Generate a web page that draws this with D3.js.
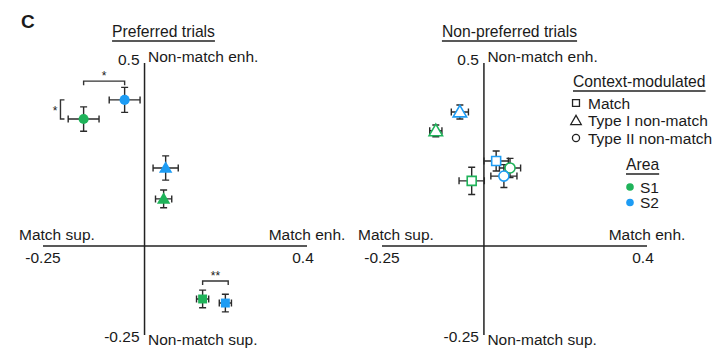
<!DOCTYPE html>
<html><head><meta charset="utf-8">
<script src="https://cdn.jsdelivr.net/npm/d3@7"></script>
<style>body{margin:0;background:#fff}text{font-family:"Liberation Sans",Arial,sans-serif;fill:#1a1a1a}</style>
</head><body>
<svg id="c" width="722" height="363"></svg>
<script>
// ---- data ----
const panels = ["Preferred trials", "Non-preferred trials"];
const areas = ["S1", "S2"];
const areaColors = ["#1fb35a", "#1d9cf4"];
const types = ["Match", "Type I non-match", "Type II non-match"];
// Preferred trials: [type, area, x, y, xerr, yerr]
const preferred = [
  ["Type II non-match", "S2", -0.049, 0.397, 0.038, 0.034],
  ["Type II non-match", "S1", -0.150, 0.345, 0.038, 0.033],
  ["Type I non-match", "S2", 0.052, 0.212, 0.031, 0.033],
  ["Type I non-match", "S1", 0.047, 0.128, 0.020, 0.024],
  ["Match", "S1", 0.143, -0.144, 0.015, 0.024],
  ["Match", "S2", 0.199, -0.155, 0.015, 0.024]
];
const nonPreferred = [
  ["Type I non-match", "S2", -0.059, 0.364, 0.021, 0.019],
  ["Type I non-match", "S1", -0.118, 0.313, 0.015, 0.016],
  ["Match", "S2", 0.030, 0.231, 0.030, 0.027],
  ["Type II non-match", "S1", 0.064, 0.212, 0.026, 0.026],
  ["Type II non-match", "S2", 0.049, 0.190, 0.032, 0.031],
  ["Match", "S1", -0.030, 0.177, 0.031, 0.037]
];
// significance brackets (preferred panel)
const sigH = [ {x1: -0.150, x2: -0.049, y: 0.448, label: "*"}, {x1: 0.143, x2: 0.206, y: -0.095, label: "**"} ];
const sigV = [ {y1: 0.397, y2: 0.345, x: -0.207, label: "*"} ];
const xDomain = [-0.25, 0.4];
const yDomain = [-0.25, 0.5];
const xTickLabels = ["-0.25", "0.4"];
const yTickLabels = ["-0.25", "0.5"];
const axisLabels = {xNeg: "Match sup.", xPos: "Match enh.", yPos: "Non-match enh.", yNeg: "Non-match sup."};

// ---- drawing ----
const svg = d3.select("#c");
const color = d3.scaleOrdinal(areas, areaColors);
const shape = d3.scaleOrdinal(types, [d3.symbolSquare, d3.symbolTriangle, d3.symbolCircle]);
const size = d3.scaleOrdinal(types, [80, 78, 80]);
const ink = "#222";
const FS = 15.5, HFS = 15.7;

svg.append("text").attr("x", 21).attr("y", 28).attr("font-size", 19).attr("font-weight", "bold").text("C");

const layouts = [
  {x0: 43, x1: 307, data: preferred, filled: true},
  {x0: 382, x1: 647, data: nonPreferred, filled: false}
];

function underlined(g, x, y, txt, fs, anchor) {
  const t = g.append("text").attr("x", x).attr("y", y).attr("font-size", fs).attr("text-anchor", anchor).text(txt);
  const w = t.node().getComputedTextLength();
  const sx = anchor === "middle" ? x - w / 2 : x;
  g.append("line").attr("x1", sx).attr("x2", sx + w).attr("y1", y + 4).attr("y2", y + 4).attr("stroke", ink).attr("stroke-width", 1.3);
}

layouts.forEach((L, i) => {
  const x = d3.scaleLinear().domain(xDomain).range([L.x0, L.x1]);
  const y = d3.scaleLinear().domain(yDomain).range([338, 62]);
  const g = svg.append("g");
  // title
  underlined(g, (x(xDomain[0]) + x(xDomain[1])) / 2 + (i === 0 ? -11.5 : -5), 37, panels[i], HFS, "middle");
  // axes
  g.append("line").attr("x1", x(xDomain[0])).attr("x2", x(xDomain[1])).attr("y1", y(0)).attr("y2", y(0)).attr("stroke", ink).attr("stroke-width", 1.5);
  g.append("line").attr("x1", x(0)).attr("x2", x(0)).attr("y1", y(yDomain[1]) + 1).attr("y2", y(yDomain[0]) - 3).attr("stroke", ink).attr("stroke-width", 1.5);
  const fs = FS;
  g.append("text").attr("x", x(xDomain[0]) - 24).attr("y", y(0) - 6).attr("font-size", fs).text(axisLabels.xNeg);
  g.append("text").attr("x", x(xDomain[1])).attr("y", y(0) - 6).attr("font-size", fs).attr("text-anchor", "middle").text(axisLabels.xPos);
  g.append("text").attr("x", x(xDomain[0])).attr("y", y(0) + 17).attr("font-size", fs).attr("text-anchor", "middle").text(xTickLabels[0]);
  g.append("text").attr("x", x(xDomain[1]) - 4).attr("y", y(0) + 17).attr("font-size", fs).attr("text-anchor", "middle").text(xTickLabels[1]);
  g.append("text").attr("x", x(0) - 5).attr("y", y(yDomain[1]) + 3).attr("font-size", fs).attr("text-anchor", "end").text(yTickLabels[1]);
  g.append("text").attr("x", x(0) + 3.5).attr("y", y(yDomain[1])).attr("font-size", fs).text(axisLabels.yPos);
  g.append("text").attr("x", x(0) - 5).attr("y", y(yDomain[0]) + 4).attr("font-size", fs).attr("text-anchor", "end").text(yTickLabels[0]);
  g.append("text").attr("x", x(0) + 3.5).attr("y", y(yDomain[0]) + 7).attr("font-size", fs).text(axisLabels.yNeg);

  // error bars
  const cap = 3.5;
  const eb = g.append("g").attr("stroke", "#2a2a2a").attr("stroke-width", 1.4).attr("fill", "none");
  L.data.forEach(d => {
    const [tp, ar, vx, vy, ex, ey] = d;
    const xl = x(vx - ex), xr = x(vx + ex), yt = y(vy + ey), yb = y(vy - ey), cx = x(vx), cy = y(vy);
    eb.append("path").attr("d",
      `M${xl},${cy}H${xr}M${xl},${cy - cap}V${cy + cap}M${xr},${cy - cap}V${cy + cap}` +
      `M${cx},${yt}V${yb}M${cx - cap},${yt}H${cx + cap}M${cx - cap},${yb}H${cx + cap}`);
  });
  // markers
  g.selectAll("path.m").data(L.data).join("path").attr("class", "m")
    .attr("transform", d => `translate(${x(d[2])},${y(d[3]) + (d[0] === types[1] ? 1 : 0)})`)
    .attr("d", d => d3.symbol(shape(d[0]), size(d[0]))())
    .attr("fill", d => L.filled ? color(d[1]) : "#fff")
    .attr("stroke", d => L.filled ? "none" : color(d[1]))
    .attr("stroke-width", 1.6);

  if (i === 0) {
    const sg = g.append("g").attr("stroke", "#333").attr("stroke-width", 1.4).attr("fill", "none");
    sigH.forEach(s => {
      sg.append("path").attr("d", `M${x(s.x1)},${y(s.y) + 4}V${y(s.y)}H${x(s.x2)}V${y(s.y) + 4}`);
      g.append("text").attr("x", (x(s.x1) + x(s.x2)) / 2).attr("y", y(s.y) - 1).attr("font-size", 12).attr("text-anchor", "middle").text(s.label);
    });
    sigV.forEach(s => {
      sg.append("path").attr("d", `M${x(s.x) + 4},${y(s.y1)}H${x(s.x)}V${y(s.y2)}H${x(s.x) + 4}`);
      g.append("text").attr("x", x(s.x) - 3).attr("y", (y(s.y1) + y(s.y2)) / 2 + 6).attr("font-size", 12).attr("text-anchor", "end").text(s.label);
    });
  } else {
    // legend
    const lg = svg.append("g");
    underlined(lg, 573, 87, "Context-modulated", HFS, "start");
    types.forEach((t, k) => {
      const cy = 103 + k * 17.5;
      lg.append("path").attr("transform", `translate(576,${cy + (k === 1 ? 1 : 0)})`)
        .attr("d", d3.symbol(shape(t), k === 2 ? 40 : 48)()).attr("fill", "none").attr("stroke", ink).attr("stroke-width", 1.3);
      lg.append("text").attr("x", 588).attr("y", cy + 5.5).attr("font-size", FS).text(t);
    });
    underlined(lg, 626, 170, "Area", HFS, "start");
    areas.forEach((a, k) => {
      const cy = 187 + k * 15.5;
      lg.append("circle").attr("cx", 630).attr("cy", cy).attr("r", 3.8).attr("fill", color(a));
      lg.append("text").attr("x", 640).attr("y", cy + 5.5).attr("font-size", FS).text(a);
    });
  }
});
</script>
</body></html>
